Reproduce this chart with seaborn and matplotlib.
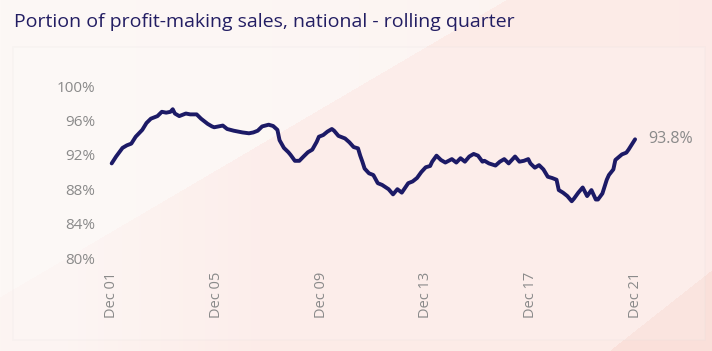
import numpy as np
import pandas as pd
import seaborn as sns
import matplotlib.pyplot as plt
from matplotlib.patches import Rectangle

# rolling-quarter share of profit-making sales
months = ["2001-12", "2002-02", "2002-05", "2002-07", "2002-09", "2002-11", "2003-02", "2003-04",
          "2003-06", "2003-09", "2003-11", "2004-01", "2004-03", "2004-04", "2004-05", "2004-07",
          "2004-10", "2004-12", "2005-03", "2005-05", "2005-08", "2005-10", "2005-11", "2006-01",
          "2006-03", "2006-05", "2006-08", "2006-10", "2006-12", "2007-03", "2007-05", "2007-07",
          "2007-09", "2007-12", "2008-02", "2008-04", "2008-05", "2008-07", "2008-09", "2008-10",
          "2008-12", "2009-02", "2009-04", "2009-06", "2009-08", "2009-10", "2009-11", "2010-01",
          "2010-03", "2010-05", "2010-06", "2010-08", "2010-11", "2011-01", "2011-03", "2011-05",
          "2011-06", "2011-07", "2011-08", "2011-10", "2011-12", "2012-02", "2012-04", "2012-07",
          "2012-09", "2012-11", "2013-01", "2013-04", "2013-06", "2013-08", "2013-10", "2013-12",
          "2014-02", "2014-03", "2014-05", "2014-07", "2014-09", "2014-12", "2015-02", "2015-04",
          "2015-06", "2015-08", "2015-10", "2015-12", "2016-02", "2016-03", "2016-05", "2016-08",
          "2016-10", "2016-12", "2017-02", "2017-05", "2017-07", "2017-09", "2017-11", "2017-12",
          "2018-02", "2018-04", "2018-06", "2018-08", "2018-10", "2018-12", "2019-01", "2019-03",
          "2019-05", "2019-07", "2019-08", "2019-10", "2019-12", "2020-02", "2020-04", "2020-06",
          "2020-07", "2020-09", "2020-11", "2020-12", "2021-02", "2021-03", "2021-06", "2021-08",
          "2021-09", "2021-12"]
share = [91.0, 91.8, 92.8, 93.1, 93.3, 94.1, 94.9, 95.7,
         96.2, 96.5, 97.0, 96.9, 97.0, 97.3, 96.8, 96.5,
         96.8, 96.7, 96.7, 96.2, 95.6, 95.3, 95.2, 95.3,
         95.4, 95.0, 94.8, 94.7, 94.6, 94.5, 94.6, 94.8,
         95.3, 95.5, 95.35, 94.9, 93.7, 92.8, 92.3, 92.0,
         91.3, 91.3, 91.8, 92.3, 92.6, 93.5, 94.1, 94.3,
         94.7, 95.0, 94.8, 94.2, 93.9, 93.45, 92.9, 92.75,
         91.9, 91.2, 90.4, 89.85, 89.65, 88.7, 88.5, 88.0,
         87.4, 88.0, 87.6, 88.7, 88.9, 89.3, 90.0, 90.55,
         90.7, 91.2, 91.9, 91.4, 91.1, 91.5, 91.1, 91.6,
         91.2, 91.8, 92.1, 91.9, 91.2, 91.3, 91.0, 90.75,
         91.2, 91.5, 91.0, 91.8, 91.2, 91.3, 91.5, 91.0,
         90.5, 90.8, 90.3, 89.45, 89.3, 89.1, 87.9, 87.6,
         87.2, 86.6, 86.9, 87.6, 88.2, 87.2, 87.9, 86.8,
         86.8, 87.5, 89.1, 89.65, 90.3, 91.4, 92.05, 92.25,
         92.6, 93.8]

tick_dates = ["2001-12", "2005-12", "2009-12", "2013-12", "2017-12", "2021-12"]
tick_labels = ["Dec 01", "Dec 05", "Dec 09", "Dec 13", "Dec 17", "Dec 21"]
y_ticks = [80, 84, 88, 92, 96, 100]

df = pd.DataFrame({"month": pd.to_datetime(months), "share": share})

sns.set_theme(style="white")
plt.rcParams["font.family"] = ["Open Sans", "DejaVu Sans"]

W, H = 712, 351
fig = plt.figure(figsize=(W / 100, H / 100), dpi=100)

# soft pink background: light on the left, pinker to the right, diagonal edge
bg = fig.add_axes([0, 0, 1, 1], zorder=0)
yy, xx = np.mgrid[0:H, 0:W]
light = np.array([253, 248, 246]) / 255
pink = np.array([252, 233, 229]) / 255
deep = np.array([250, 224, 218]) / 255
t = np.clip(xx / W, 0, 1)[..., None]
img = light * (1 - 0.35 * t) + pink * 0.35 * t
# diagonal band fades out towards the left edge
w = ((yy + 0.587 * xx) > 296.6) * np.clip(xx / 260, 0.25, 1)
w = w[..., None] * 0.8
img = img * (1 - w) + pink * w
mask2 = (yy + 0.79 * xx) > 832
img[mask2] = deep
bg.imshow(img, extent=[0, W, H, 0], aspect="auto")
bg.set_xlim(0, W)
bg.set_ylim(H, 0)
bg.axis("off")

# chart panel
fig.patches.append(Rectangle((13 / W, 1 - 340 / H), 692 / W, 293 / H,
                             transform=fig.transFigure, facecolor="white", alpha=0.15,
                             edgecolor="#dddddd", linewidth=1.2, zorder=1))

fig.text(14 / W, 1 - 22 / H, "Portion of profit-making sales, national - rolling quarter",
         fontsize=14, color="#231e63", va="center", ha="left")

# plot area: x px 100..660, y px 86..258
ax = fig.add_axes([100 / W, 1 - 258 / H, 560 / W, 172 / H], zorder=2)
ax.set_facecolor("none")
sns.lineplot(data=df, x="month", y="share", ax=ax, color="#1c1a66", linewidth=2.8)

start = pd.Timestamp("2001-12-01")
end = pd.Timestamp("2021-12-01")
ax.set_xlim(start - pd.Timedelta(days=163), end + pd.Timedelta(days=348))
ax.set_ylim(80, 100)
ax.set_yticks(y_ticks)
ax.set_yticklabels([f"{v}%" for v in y_ticks])
ax.set_xticks(pd.to_datetime(tick_dates))
ax.set_xticklabels(tick_labels, rotation=90)
ax.tick_params(axis="y", colors="#8a8a8a", labelsize=11, length=0, pad=3.5)
ax.tick_params(axis="x", colors="#8a8a8a", labelsize=10.5, length=0, pad=10)
ax.set_xlabel("")
ax.set_ylabel("")
for s in ax.spines.values():
    s.set_visible(False)

last = df.iloc[-1]
ax.annotate(f"{last['share']:.1f}%", (last["month"], last["share"]), xytext=(9.5, 0),
            textcoords="offset points", fontsize=11.5, color="#8a8a8a", va="center", ha="left")

plt.savefig("out.png", dpi=100)
